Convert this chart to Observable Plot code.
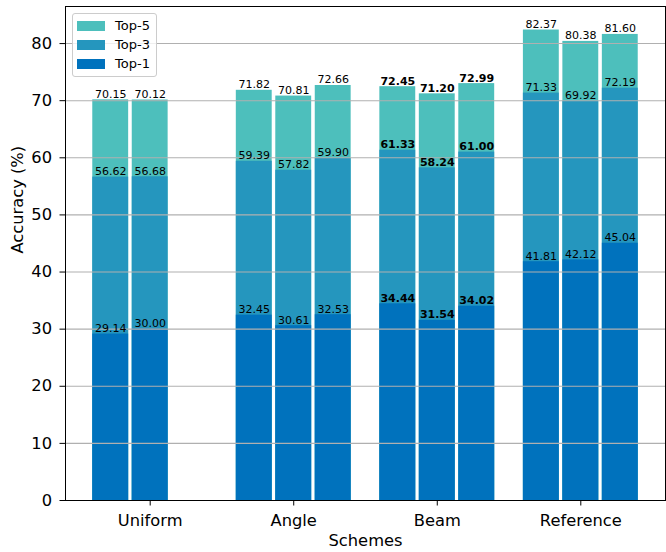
<!DOCTYPE html>
<html>
<head>
<meta charset="utf-8">
<script src="https://cdn.jsdelivr.net/npm/d3@7"></script>
<script src="https://cdn.jsdelivr.net/npm/@observablehq/plot@0.6"></script>
<style>
  html, body { margin: 0; padding: 0; background: white; }
  #wrap { position: relative; width: 666px; height: 552px; font-family: "DejaVu Sans", sans-serif; }
  #legend { position: absolute; left: 72px; top: 13px; width: 85px; height: 64px; box-sizing: border-box;
            border: 1px solid #cccccc; border-radius: 3px; background: rgba(255,255,255,0.8); }
  .lrow { position: absolute; left: 0; height: 14px; }
  .lsw { position: absolute; left: 4px; top: 2px; width: 28px; height: 10px; }
  .ltx { position: absolute; left: 42px; top: -2px; font-size: 13px; line-height: 18px; color: black; white-space: nowrap; }
</style>
</head>
<body>
<div id="wrap"><div id="legend"></div></div>
<script>
const schemes = ["Uniform", "Angle", "Beam", "Reference"];
const metrics = ["Top-5", "Top-3", "Top-1"];
const colors = ["#4dbfbc", "#2596be", "#0072bd"];
const top5 = [[70.15, 70.12], [71.82, 70.81, 72.66], [72.45, 71.20, 72.99], [82.37, 80.38, 81.60]];
const top3 = [[56.62, 56.68], [59.39, 57.82, 59.90], [61.33, 58.24, 61.00], [71.33, 69.92, 72.19]];
const top1 = [[29.14, 30.00], [32.45, 30.61, 32.53], [34.44, 31.54, 34.02], [41.81, 42.12, 45.04]];
const boldScheme = "Beam";
const yTicks = [0, 10, 20, 30, 40, 50, 60, 70, 80];

const series = [top5, top3, top1];
const barW = 0.25, step = 0.275;
const rows = [];
series.forEach((s, mi) => {
  s.forEach((vals, gi) => {
    vals.forEach((v, k) => {
      rows.push({metric: metrics[mi], scheme: schemes[gi], pos: gi + (k - 1) * step, value: v});
    });
  });
});

const FS = 16.3;
const chart = Plot.plot({
  width: 666, height: 552,
  marginLeft: 65, marginRight: 1, marginTop: 6, marginBottom: 52,
  x: {domain: [-0.59, 3.59]},
  y: {domain: [0, 86.49]},
  color: {domain: metrics, range: colors},
  style: {fontFamily: "DejaVu Sans", fontSize: FS + "px", color: "black", background: "white"},
  marks: [
    Plot.rectY(rows, {x1: d => d.pos - barW / 2, x2: d => d.pos + barW / 2, y1: 0, y2: "value", fill: "metric"}),
    Plot.gridY(yTicks, {stroke: "#b0b0b0", strokeOpacity: 1, strokeWidth: 1.1}),
    Plot.text(rows.filter(d => d.scheme !== boldScheme), {x: "pos", y: "value", text: d => d.value.toFixed(2), lineAnchor: "bottom", dy: -2, fontSize: 11, fill: "black"}),
    Plot.text(rows.filter(d => d.scheme === boldScheme), {x: "pos", y: "value", text: d => d.value.toFixed(2), lineAnchor: "bottom", dy: -2, fontSize: 11, fontWeight: "bold", fill: "black"}),
    Plot.axisY({ticks: yTicks, tickSize: 5.5, tickPadding: 8, label: null, fontSize: FS}),
    Plot.axisX({ticks: [0, 1, 2, 3], tickFormat: i => schemes[i], tickSize: 5.5, tickPadding: 8, label: null, fontSize: FS}),
    Plot.text(["Accuracy (%)"], {frameAnchor: "left", dx: -48, rotate: -90, fontSize: FS, fill: "black"}),
    Plot.text(["Schemes"], {frameAnchor: "bottom", dy: 45, fontSize: FS, fill: "black"}),
    Plot.frame({stroke: "black"})
  ]
});
const wrap = document.getElementById("wrap");
wrap.insertBefore(chart, wrap.firstChild);

const legend = document.getElementById("legend");
metrics.forEach((m, i) => {
  const row = document.createElement("div");
  row.className = "lrow";
  row.style.top = (5 + i * 19) + "px";
  row.innerHTML = `<div class="lsw" style="background:${colors[i]}"></div><div class="ltx">${m}</div>`;
  legend.appendChild(row);
});
</script>
</body>
</html>
